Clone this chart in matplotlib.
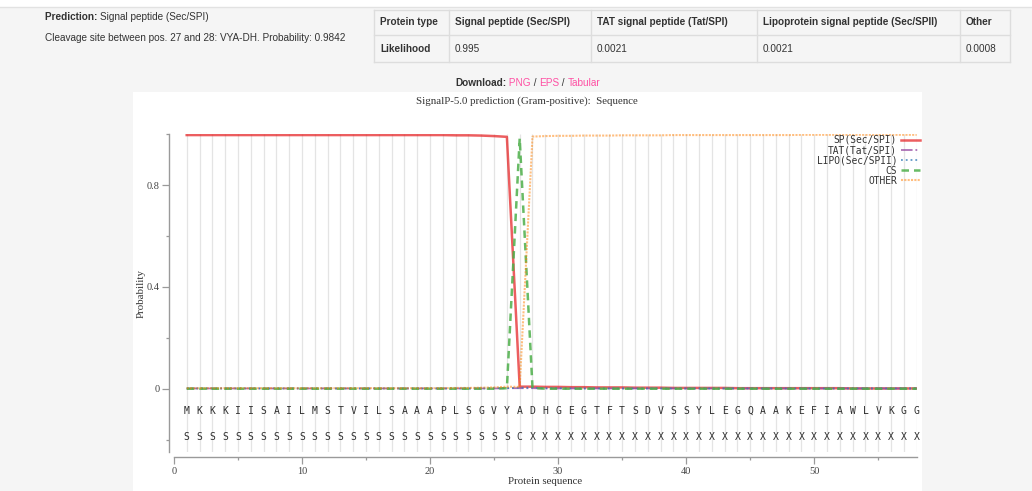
import matplotlib.pyplot as plt
from matplotlib.patches import Rectangle
from matplotlib.lines import Line2D
import numpy as np

W, H = 1032, 491

# sequence and per-residue annotation
sequence = list("MKKKIISAILMSTVILSAAAPLSGVYADHGEGTFTSDVSSYLEGQAAKEFIAWLVKGG")
regions = list("SSSSSSSSSSSSSSSSSSSSSSSSSSCXXXXXXXXXXXXXXXXXXXXXXXXXXXXXXX")
positions = np.arange(1, len(sequence) + 1)

sp = [0.997, 0.997, 0.997, 0.997, 0.997, 0.997, 0.997, 0.997, 0.997, 0.997,
      0.997, 0.997, 0.997, 0.997, 0.997, 0.997, 0.997, 0.997, 0.997, 0.997,
      0.997, 0.996, 0.996, 0.995, 0.993, 0.990, 0.008, 0.008, 0.007, 0.007,
      0.006, 0.006, 0.005, 0.005, 0.005, 0.004, 0.004, 0.004, 0.003, 0.003,
      0.003, 0.003, 0.003, 0.002, 0.002, 0.002, 0.002, 0.002, 0.002, 0.002,
      0.002, 0.002, 0.001, 0.001, 0.001, 0.001, 0.001, 0.001]
tat = [0.001, 0.001, 0.001, 0.001, 0.001, 0.001, 0.001, 0.001, 0.001, 0.001,
       0.001, 0.001, 0.001, 0.001, 0.001, 0.001, 0.001, 0.001, 0.001, 0.001,
       0.001, 0.001, 0.001, 0.001, 0.001, 0.002, 0.002, 0.002, 0.001, 0.001,
       0.001, 0.001, 0.001, 0.001, 0.001, 0.001, 0.001, 0.001, 0.001, 0.001,
       0.001, 0.001, 0.001, 0.001, 0.001, 0.001, 0.001, 0.001, 0.001, 0.001,
       0.001, 0.001, 0.001, 0.001, 0.001, 0.001, 0.001, 0.001]
lipo = [0.001, 0.001, 0.001, 0.001, 0.001, 0.001, 0.001, 0.001, 0.001, 0.001,
        0.001, 0.001, 0.001, 0.001, 0.001, 0.001, 0.001, 0.001, 0.001, 0.001,
        0.001, 0.001, 0.001, 0.001, 0.002, 0.002, 0.004, 0.004, 0.002, 0.002,
        0.001, 0.001, 0.001, 0.001, 0.001, 0.001, 0.001, 0.001, 0.001, 0.001,
        0.001, 0.001, 0.001, 0.001, 0.001, 0.001, 0.001, 0.001, 0.001, 0.001,
        0.001, 0.001, 0.001, 0.001, 0.001, 0.001, 0.001, 0.001]
cs = [0.0, 0.0, 0.0, 0.0, 0.0, 0.0, 0.0, 0.0, 0.0, 0.0,
      0.0, 0.0, 0.0, 0.0, 0.0, 0.0, 0.0, 0.0, 0.0, 0.0,
      0.0, 0.0, 0.0, 0.0, 0.0, 0.002, 0.984, 0.003, 0.0, 0.0,
      0.0, 0.0, 0.0, 0.0, 0.0, 0.0, 0.0, 0.0, 0.0, 0.0,
      0.0, 0.0, 0.0, 0.0, 0.0, 0.0, 0.0, 0.0, 0.0, 0.0,
      0.0, 0.0, 0.0, 0.0, 0.0, 0.0, 0.0, 0.0]
other = [0.002, 0.002, 0.002, 0.002, 0.002, 0.002, 0.002, 0.002, 0.002, 0.002,
         0.002, 0.002, 0.002, 0.002, 0.002, 0.002, 0.002, 0.002, 0.002, 0.002,
         0.002, 0.003, 0.003, 0.004, 0.005, 0.008, 0.007, 0.991, 0.993, 0.994,
         0.994, 0.995, 0.995, 0.995, 0.996, 0.996, 0.996, 0.996, 0.997, 0.997,
         0.997, 0.997, 0.997, 0.997, 0.997, 0.997, 0.997, 0.997, 0.998, 0.998,
         0.998, 0.998, 0.998, 0.998, 0.998, 0.998, 0.998, 0.998]

series_names = ["SP(Sec/SPI)", "TAT(Tat/SPI)", "LIPO(Sec/SPII)", "CS", "OTHER"]

table_header = ["Protein type", "Signal peptide (Sec/SPI)", "TAT signal peptide (Tat/SPI)",
                "Lipoprotein signal peptide (Sec/SPII)", "Other"]
table_row = ["Likelihood", "0.995", "0.0021", "0.0021", "0.0008"]


def fx(x):
    return x / W


def fy(y):
    return 1 - y / H


fig = plt.figure(figsize=(W / 100, H / 100), dpi=100, facecolor='#f5f5f5')
renderer = fig.canvas.get_renderer()

SANS = 'Liberation Sans'
SERIF = 'Liberation Serif'
MONO = 'DejaVu Sans Mono'


def chain(x, y, pieces, size):
    # put text pieces one after another, left to right (pixel coords)
    for txt, weight, color in pieces:
        t = fig.text(fx(x), fy(y), txt, family=SANS, size=size, weight=weight,
                     color=color, va='center', ha='left')
        x += t.get_window_extent(renderer).width


# page background bits
fig.patches.append(Rectangle((0, fy(7)), 1, 7 / H, transform=fig.transFigure,
                             facecolor='white', edgecolor='none', zorder=-10))
fig.lines.append(Line2D([0, 1], [fy(7), fy(7)], transform=fig.transFigure,
                        color='#e2e2e2', lw=1, zorder=-9))
fig.patches.append(Rectangle((fx(133), 0), (922 - 133) / W, (491 - 92) / H,
                             transform=fig.transFigure, facecolor='white',
                             edgecolor='none', zorder=-10))

# prediction summary
chain(45, 17, [("Prediction: ", 'bold', '#333333'),
               ("Signal peptide (Sec/SPI)", 'normal', '#333333')], 7.2)
chain(45, 38, [("Cleavage site between pos. 27 and 28: VYA-DH. Probability: 0.9842",
                'normal', '#333333')], 7.2)

# likelihood table
col_x = [374, 449, 591, 757, 960, 1010]
row_y = [10, 35, 62]
for yy in row_y:
    fig.lines.append(Line2D([fx(col_x[0]), fx(col_x[-1])], [fy(yy), fy(yy)],
                            transform=fig.transFigure, color='#dddddd', lw=1))
for xx in col_x:
    fig.lines.append(Line2D([fx(xx), fx(xx)], [fy(row_y[0]), fy(row_y[-1])],
                            transform=fig.transFigure, color='#dddddd', lw=1))
for i in range(len(table_header)):
    fig.text(fx(col_x[i] + 6), fy(22), table_header[i], family=SANS, size=7.2,
             weight='bold', color='#333333', va='center')
    fig.text(fx(col_x[i] + 6), fy(49), table_row[i], family=SANS, size=7.2,
             weight='bold' if i == 0 else 'normal', color='#333333', va='center')

# download links
pink = '#ff4fa3'
chain(455, 83, [("Download:", 'bold', '#333333'), (" PNG", 'normal', pink),
                (" / ", 'normal', '#333333'), ("EPS", 'normal', pink),
                (" / ", 'normal', '#333333'), ("Tabular", 'normal', pink)], 7.2)

# plot
ax = fig.add_axes([fx(173.9), fy(452.3), (916.7 - 173.9) / W, (452.3 - 134.3) / H])
ax.set_zorder(5)
ax.patch.set_alpha(0)
ax.set_xlim(0, 58)
ax.set_ylim(-0.25, 1.0)

ax.vlines(positions, -0.25, 1.0, color='#e4e4e4', lw=0.9, zorder=0)

ax.plot(positions, sp, color='#e41a1c', alpha=0.7, lw=1.8, ls='-', label=series_names[0])
ax.plot(positions, tat, color='#984ea3', alpha=0.8, lw=1.3, ls='-.', label=series_names[1])
ax.plot(positions, lipo, color='#377eb8', alpha=0.8, lw=1.3, ls=':', label=series_names[2])
ax.plot(positions, cs, color='#4daf4a', alpha=0.85, lw=1.8, ls=(0, (3, 2)), label=series_names[3])
ax.plot(positions, other, color='#ff7f00', alpha=0.5, lw=1.5, ls=(0, (1, 0.6)), label=series_names[4])

for p, aa, r in zip(positions, sequence, regions):
    ax.text(p, -0.087, aa, ha='center', va='center', family=MONO, size=7,
            color='#2e2e2e')
    ax.text(p, -0.188, r, ha='center', va='center', family=MONO, size=7,
            color='#2e2e2e')

leg = ax.legend(loc='upper right', bbox_to_anchor=(fx(920), fy(135)),
                bbox_transform=fig.transFigure, markerfirst=False, frameon=False,
                prop={'family': MONO, 'size': 6.9}, handlelength=2.0,
                handletextpad=0.4, labelspacing=0.02, borderpad=0, borderaxespad=0)
for t in leg.get_texts():
    t.set_color('#333333')

for s in ['top', 'right']:
    ax.spines[s].set_visible(False)
ax.spines['left'].set_position(('outward', 3.3))
ax.spines['bottom'].set_position(('outward', 3.6))
for s in ['left', 'bottom']:
    ax.spines[s].set_color('#9a9a9a')
    ax.spines[s].set_linewidth(1.0)

ax.set_yticks([0, 0.4, 0.8])
ax.set_yticklabels(['0', '0.4', '0.8'])
ax.set_yticks([-0.2, 0.2, 0.6, 1.0], minor=True)
ax.set_xticks([0, 10, 20, 30, 40, 50])
ax.set_xticks([5, 15, 25, 35, 45, 55], minor=True)
ax.tick_params(which='major', length=5, width=0.9, color='#9a9a9a',
               labelsize=7.5, labelcolor='#444444', pad=2)
ax.tick_params(which='minor', length=2.2, width=0.9, color='#9a9a9a')
for lab in ax.get_xticklabels() + ax.get_yticklabels():
    lab.set_family(SERIF)

fig.text(fx(141), fy(293), "Probability", family=SERIF, size=7.8, color='#333333',
         rotation=90, ha='center', va='center')
fig.text(fx(545), fy(481), "Protein sequence", family=SERIF, size=7.8, color='#333333',
         ha='center', va='center')
fig.text(fx(527), fy(101), "SignalP-5.0 prediction (Gram-positive):  Sequence",
         family=SERIF, size=7.8, color='#333333', ha='center', va='center')

fig.savefig('out.png', dpi=100, facecolor=fig.get_facecolor())
